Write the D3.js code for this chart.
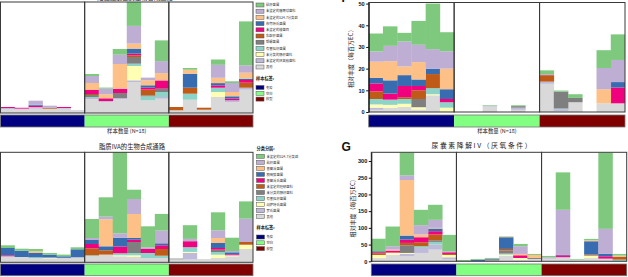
<!DOCTYPE html>
<html><head><meta charset="utf-8">
<script src="https://cdn.jsdelivr.net/npm/d3@7"></script>
<style>
body{margin:0;background:#fff}
svg{display:block;font-family:"Noto Sans CJK SC","Noto Sans",sans-serif}
</style>
</head><body>
<svg id="c" width="628" height="277"></svg>
<script>
// ---------- DATA ----------
const samples = d3.range(1, 19).map(i => "S" + i);
const groupNames = ["免疫", "空白", "模型"];
const groupColors = ["#000080", "#80ff80", "#800000"];
// taxa colours, legend order (top of stack first, "其他" last / bottom)
const taxaColors = ["#7fc97f", "#beaed4", "#fdc086", "#386cb0", "#f0027f", "#bf5b17",
  "#7f7f7f", "#8dd3c7", "#ffffb3", "#bebada", "#d9d9d9"];
const legendTop = ["粘杆菌属", "未鉴定的瘤胃球菌科", "未鉴定的S24-7分类群", "布劳特氏菌属",
  "未鉴定的梭菌目", "乳酸杆菌属", "颤螺菌属", "有害拟杆菌属", "未分类的肠杆菌科",
  "未鉴定的厌氧胶菌科", "其他"];
const legendBottom = ["未鉴定的S24-7分类群", "粘杆菌属", "普雷沃菌属", "脱硫弧菌属",
  "普雷沃氏菌属", "未鉴定的理研菌科", "未分类的肠杆菌科", "有害拟杆菌属", "副萨特氏菌属",
  "罗氏菌属", "其他"];
const xLabel = "样本数量 (N=18)";
const yLabel = "相对丰度（每百万EC）";
const titleA = "短链脂肪酸的生物合成通路";
const titleC = "脂质IVA的生物合成通路";
const titleD = "尿囊素降解IV（厌氧条件）";
const ticksB = [0, 10, 20, 30, 40, 50];
const ticksD = [0, 50, 100, 150, 200, 250, 300];

// each row = one sample, 11 taxa in legend order
const valuesA = [
  [0,0,0,0,1,0,0,0,0,1,4],
  [0,0,0,0,0.8,0,0,0,0,0.8,3.6],
  [0,4,0,1,1.3,0,0,0,0,1.7,4.3],
  [0,2,0,0,0,1,0,0,0,0,4.3],
  [0,0,0,0,1,0,0,0,0,0.7,4.3],
  [0,0,0,0,0,0,0,0,0,0.5,2.3],
  [2,7,7,0,4,1,2,1,0,1,14],
  [1,5.7,4,0,2.7,0,0,0,0,1,11],
  [5.7,9.3,24.7,0,4.3,0,5,0,0,1,14],
  [30,17.7,5,5,1.7,1.7,6.7,2.3,14.3,1.7,31],
  [0,2.7,5,2.3,2,5.7,1,4,0,0,12.7],
  [20.7,12,7.3,0,8.3,0,3.3,5,0,1.7,14.3],
  [0,0,0,0,0,3.3,0,0,0,0,2.7],
  [1.7,0,4,14,0,6,0,6,0,0,13.3],
  [0,0,0,0,0,2,0,0,0,0,3.3],
  [5.3,13,5.3,2.3,2.3,0,0,4.3,5,0,16],
  [1.7,9,4.3,2.3,1.7,0,0,0,0,1.7,11],
  [44,7.3,6,1.3,2.7,5,0,0,0,2,23.3]
];
const valuesB = [
  [8.3,4.7,7.5,2.5,3.7,3.5,0,2.5,1.5,1,1],
  [9,7.1,8.8,6.1,2.8,0,0,2.4,1.3,0,2],
  [4,11.5,4,5,5.2,0.8,0,2.2,1.5,0,2.3],
  [11,8,8,3,2,4,3.8,0,1,0,1.2],
  [21,9,0,2.5,0,6.5,0,2.8,0.5,0,7.7],
  [8.8,8,9.5,4.5,1.5,0,0,2.5,1.7,0,0.3],
  [0,0,0,0,0,0,0,0,0,0,0],
  [0,0,0,0,0,0,0,0,0,0,0],
  [0.3,0,0,0,0,0,0,0,0,0.3,2.5],
  [0,0,0,0,0,0,0,0,0,0,0],
  [0.4,0,0,0,0,0,0.7,0,0,1,1],
  [0,0,0,0,0,0,0,0,0,0,0],
  [1.7,0.5,0,0,0,3,0,0,0,1,13],
  [0.5,0,0,0,0,0,7.8,0.3,0,1,0.3],
  [1.7,0,0,0,0,0,2,0,0,0,4.5],
  [0,0,0,0,0,0,0,0,0,0,0],
  [8.2,9.8,6.5,0,0,0,0,0,0,0,4],
  [11.8,10.2,0,2.5,7.3,0,0,0,0,0,4]
];
const valuesC = [
  [2.7,0,0,7.3,1,0,0,0,0,0,6],
  [2,0,0,6.3,0,0,0,0,0,0,5.3],
  [2.3,0,1.7,4.3,0,0,0,1,0,0,4],
  [1.6,0,0,3,0,0,0,0,0.7,0,4],
  [1.7,0,0,1.5,0,0,0,0,0,0.5,4],
  [2,0,0,8,0,0,0,0,0,0,5],
  [19,2,0,4,4.3,7,0,1,0,0,6],
  [19.3,2.7,27,4,0,4.3,0,0,0,0,7.7],
  [85,4.3,0,9,6.7,0,0,2,1,0,6],
  [9.3,15,24,1.7,2.3,0,11,2.3,1.7,0,5.3],
  [21,1.7,0,0,4,0,0,5,0,0,4.3],
  [16.7,12.7,0,2,3.7,6.7,0,2.3,0,0,4.3],
  [0,0,0,0,0,0,0.7,0,0,0,3],
  [13.7,2.3,0,0,6,0,0,4.7,1,6.7,2.7],
  [0,0,0,0,0,0,0,0,0,0,3.3],
  [18,7.7,5,5,1.7,0,2.3,2.7,3.3,0,4.3],
  [13.3,1.3,0,2,1,0,0,0,1,0,6],
  [17.3,23.3,0,0,0,2.7,0,0,4.3,0,13.3]
];
const valuesD = [
  [37.5,0,0,3,3,5,0,0,10,2,7],
  [59,10,3,0,6,0,0,0,6,0,20],
  [68,14,166,12,10,7,23,0,3,7,15],
  [46,28,8,0,15,12,0,5,0,15,25],
  [45,24,2,8,10,17,5,8,0,15,35],
  [49,3,0,0,5,3,0,0,7,7,5],
  [3,0,0,0,0,0,0,0,0,0,1],
  [2,0,0,5,0,0,0,0,0,0,0],
  [2,0,0,2,0,0,4,0,0,0,2],
  [1,0,2,35,0,5,9,3,3,0,17],
  [7,23,4,0,8,0,0,0,5,0,5],
  [3,0,9,0,0,0,3,0,0,0,7],
  [4,4,0,0,0,0,0,0,0,0,8],
  [112,134,0,2,5,0,0,0,0,3,10],
  [2,0,0,0,0,0,0,0,0,0,5],
  [4,0,3,40,0,3,0,0,8,2,7],
  [228,75,0,7,7,0,0,0,0,0,8],
  [5,0,3,0,0,9,0,5,0,0,0]
];

// ---------- DRAW ----------
const svg = d3.select("#c");
const keys = d3.range(10, -1, -1).map(k => "t" + k);

function drawPanel(p) {
  const g = svg.append("g");
  const x = d3.scaleBand().domain(samples).range([p.x0, p.x1]).padding(0);
  const y = d3.scaleLinear().domain([0, p.ymax]).range([p.yBase, p.yTop]);
  const rows = p.values.map((v, i) => {
    const o = { s: samples[i] };
    v.forEach((d, k) => o["t" + k] = d);
    return o;
  });
  const series = d3.stack().keys(keys)(rows);
  const cid = "clip" + p.id;
  svg.append("clipPath").attr("id", cid).append("rect")
    .attr("x", p.x0).attr("y", p.yTop).attr("width", p.x1 - p.x0).attr("height", p.yBase - p.yTop);
  const bars = g.append("g").attr("clip-path", `url(#${cid})`);
  series.forEach(s => {
    const k = +s.key.slice(1);
    bars.selectAll(null).data(s.filter(d => d[1] - d[0] > 0)).join("rect")
      .attr("x", d => x(d.data.s)).attr("width", x.bandwidth() + 0.3)
      .attr("y", d => y(d[1])).attr("height", d => y(d[0]) - y(d[1]))
      .attr("fill", taxaColors[k]);
  });
  groupNames.forEach((n, gi) => {
    const xa = x(samples[gi * 6]), xb = x(samples[gi * 6 + 5]) + x.bandwidth();
    g.append("rect").attr("x", xa).attr("y", p.yTop).attr("width", xb - xa)
      .attr("height", p.yBase - p.yTop).attr("fill", "none")
      .attr("stroke", "#3a3a3a").attr("stroke-width", 1);
    g.append("rect").attr("x", xa).attr("y", p.bandY).attr("width", xb - xa)
      .attr("height", p.bandH).attr("fill", groupColors[gi]);
  });
  g.append("rect").attr("x", p.x0).attr("y", p.bandY).attr("width", p.x1 - p.x0)
    .attr("height", p.bandH).attr("fill", "none").attr("stroke", "#777").attr("stroke-width", 0.8);
  if (p.xlab) {
    g.append("text").attr("x", (p.x0 + p.x1) / 2).attr("y", p.bandY + p.bandH + 6)
      .attr("text-anchor", "middle").attr("font-size", 5.4).attr("fill", "#222").text(p.xlab);
  }
  if (p.ticks) {
    const ax = g.append("g").attr("transform", `translate(${p.x0},0)`)
      .call(d3.axisLeft(y).tickValues(p.ticks).tickSize(2.5).tickSizeOuter(0).tickPadding(1.5));
    ax.selectAll("text").attr("font-size", 5.6).attr("font-weight", "bold")
      .attr("font-family", "Liberation Sans, Arial, sans-serif").attr("fill", "#111");
    ax.select(".domain").attr("stroke", "#111");
    ax.selectAll(".tick line").attr("stroke", "#111");
    g.append("text").attr("transform", `translate(${p.x0 - 16},${(p.yTop + p.yBase) / 2}) rotate(-90)`)
      .attr("text-anchor", "middle").attr("font-size", 6).attr("fill", "#222").text(yLabel);
  }
  if (p.title) {
    const t = g.append("text").attr("x", p.titleX).attr("y", p.titleY)
      .attr("text-anchor", "middle").attr("font-size", p.titleSize || 6.3)
      .attr("fill", "#222").text(p.title);
    if (p.titleLen) t.attr("textLength", p.titleLen).attr("lengthAdjust", "spacing");
  }
}

function drawLegend(lx, titleY, rowY0, step, labels, title, sampleTitleY, sampleY0) {
  const g = svg.append("g");
  if (title) g.append("text").attr("x", lx).attr("y", titleY + 1.5).attr("font-size", 4.2)
    .attr("font-weight", "bold").attr("fill", "#222").text(title);
  labels.forEach((l, i) => {
    const cy = rowY0 + i * step;
    g.append("rect").attr("x", lx).attr("y", cy - 2).attr("width", 8).attr("height", 4)
      .attr("fill", taxaColors[i]).attr("stroke", "#555").attr("stroke-width", 0.5);
    g.append("text").attr("x", lx + 10).attr("y", cy + 1.2).attr("font-size", 3.3)
      .attr("fill", "#333").text(l);
  });
  g.append("text").attr("x", lx).attr("y", sampleTitleY + 1.5).attr("font-size", 4.2)
    .attr("font-weight", "bold").attr("fill", "#222").text("样本标签:");
  groupNames.forEach((n, i) => {
    const cy = sampleY0 + i * 5.8;
    g.append("rect").attr("x", lx).attr("y", cy - 2).attr("width", 8).attr("height", 4)
      .attr("fill", groupColors[i]).attr("stroke", "#555").attr("stroke-width", 0.5);
    g.append("text").attr("x", lx + 10).attr("y", cy + 1.2).attr("font-size", 3.3)
      .attr("fill", "#333").text(n);
  });
}

// top-left panel (its axis lies outside the frame)
drawPanel({ id: "A", x0: 0.5, x1: 253, yTop: 2, yBase: 113, ymax: 111, values: valuesA,
  bandY: 115, bandH: 12, xlab: xLabel, title: titleA, titleX: 135, titleY: 0.3 });
// top-right panel
drawPanel({ id: "B", x0: 368.7, x1: 625, yTop: 2.5, yBase: 112, ymax: 50.5, values: valuesB,
  bandY: 115, bandH: 12, xlab: xLabel, ticks: ticksB });
// bottom-left panel
drawPanel({ id: "C", x0: 0.5, x1: 253, yTop: 152.3, yBase: 262.3, ymax: 110, values: valuesC,
  bandY: 264, bandH: 11.7, title: titleC, titleX: 132, titleY: 149.2 });
// bottom-right panel
drawPanel({ id: "D", x0: 371.3, x1: 626.7, yTop: 152.3, yBase: 261.3, ymax: 326, values: valuesD,
  bandY: 264, bandH: 11.7, ticks: ticksD, title: titleD, titleX: 481.5, titleY: 148.4,
  titleSize: 6.8, titleLen: 100 });

drawLegend(256, -100, 5, 6.2, legendTop, null, 78.5, 87.5);
drawLegend(256.5, 148, 156.3, 6.03, legendBottom, "分类分层:", 227.3, 237);

// panel letters
svg.append("text").attr("x", 341.5).attr("y", 151.3).attr("font-size", 12).attr("font-weight", "bold")
  .attr("font-family", "Liberation Sans, Arial, sans-serif").attr("fill", "#111").text("G");
svg.append("text").attr("x", 341.5).attr("y", 1.6).attr("font-size", 12).attr("font-weight", "bold")
  .attr("font-family", "Liberation Sans, Arial, sans-serif").attr("fill", "#111").text("F");
</script>
</body></html>
